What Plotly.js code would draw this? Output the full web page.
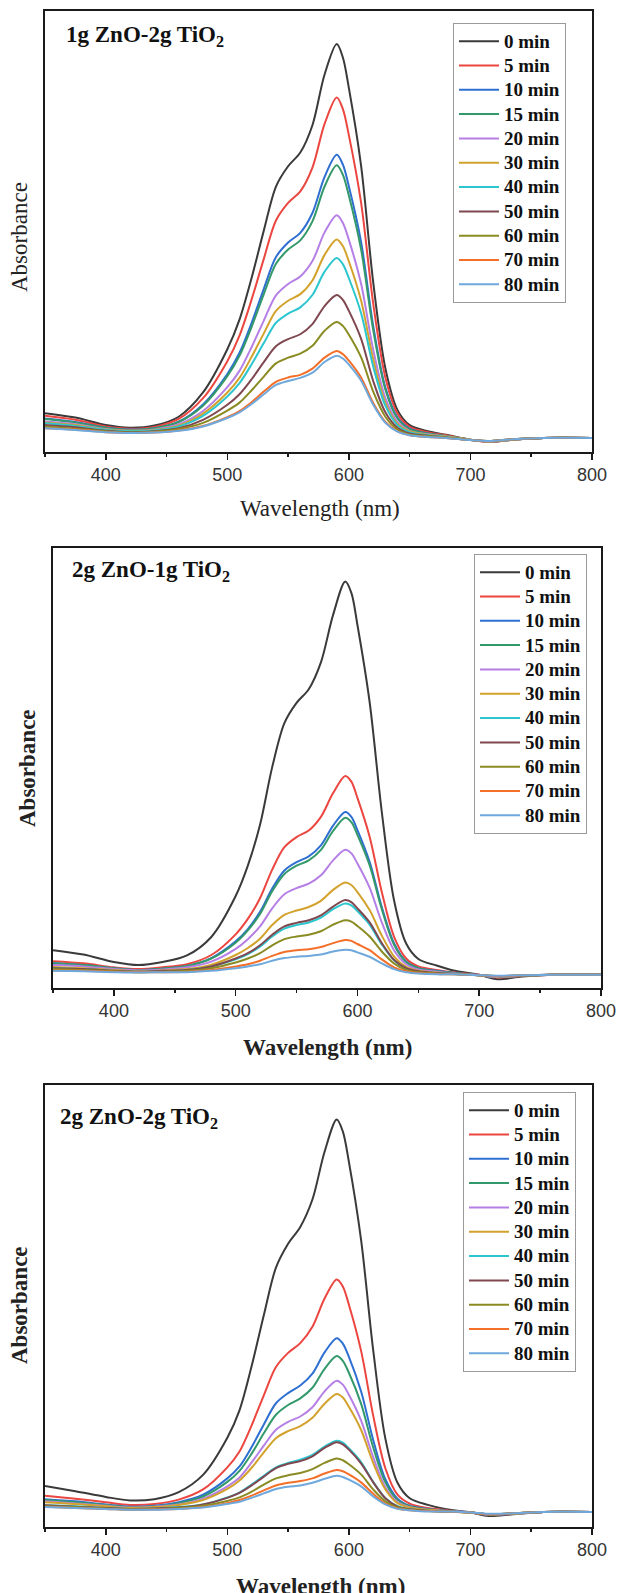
<!DOCTYPE html>
<html><head><meta charset="utf-8">
<script src="https://cdn.plot.ly/plotly-3.0.1.min.js"></script>
<style>html,body{margin:0;padding:0;background:#fff}#chart{width:617px;height:1593px}</style>
</head><body><div id="chart"></div>
<script>
const wavelength = [350,375,400,420,440,460,480,500,510,520,530,540,550,560,570,580,590,595,600,610,620,630,640,650,665,680,700,715,735,760,800];
const times = ["0 min","5 min","10 min","15 min","20 min","30 min","40 min","50 min","60 min","70 min","80 min"];
const colors = ["#3a3a3a","#ec4640","#2f6fd2","#33996a","#b57fe6","#d3a22c","#2cc6cf","#7f4850","#8a8b22","#f36f2a","#6ea8dc"];
const panelTitles = ["1g ZnO-2g TiO<sub>2</sub>","2g ZnO-1g TiO<sub>2</sub>","2g ZnO-2g TiO<sub>2</sub>"];

// Panel 1: 1g ZnO-2g TiO2
const p1_0  = [.088,.078,.061,.055,.060,.080,.135,.233,.300,.395,.502,.602,.648,.679,.741,.856,.925,.895,.825,.650,.385,.190,.095,.061,.047,.039,.028,.023,.028,.032,.032];
const p1_5  = [.082,.073,.058,.053,.057,.075,.122,.206,.264,.346,.438,.525,.565,.591,.645,.744,.804,.778,.718,.566,.337,.169,.087,.057,.045,.038,.028,.023,.028,.032,.032];
const p1_10 = [.076,.068,.055,.051,.054,.069,.108,.177,.225,.293,.370,.442,.475,.497,.542,.624,.674,.652,.602,.477,.286,.146,.078,.053,.042,.036,.028,.024,.028,.032,.032];
const p1_15 = [.075,.067,.055,.050,.054,.068,.105,.172,.218,.284,.358,.427,.459,.480,.523,.602,.650,.629,.581,.460,.277,.142,.076,.052,.042,.036,.028,.024,.028,.032,.032];
const p1_20 = [.069,.063,.052,.048,.051,.063,.093,.147,.184,.238,.298,.355,.381,.398,.433,.498,.537,.520,.481,.382,.232,.122,.068,.048,.040,.035,.028,.024,.028,.032,.032];
const p1_30 = [.067,.061,.051,.048,.050,.060,.087,.135,.168,.216,.269,.320,.343,.358,.389,.447,.482,.467,.432,.344,.211,.112,.064,.047,.039,.035,.028,.024,.028,.032,.032];
const p1_40 = [.065,.059,.050,.047,.049,.058,.082,.126,.156,.199,.247,.293,.314,.328,.356,.409,.440,.426,.394,.315,.194,.105,.061,.045,.038,.034,.027,.025,.029,.032,.032];
const p1_50 = [.061,.056,.048,.045,.047,.054,.073,.107,.131,.165,.204,.240,.256,.267,.290,.331,.356,.345,.320,.257,.161,.090,.055,.042,.037,.033,.027,.025,.029,.032,.032];
const p1_60 = [.058,.053,.047,.044,.046,.052,.066,.094,.112,.140,.171,.201,.214,.223,.241,.275,.295,.286,.266,.215,.137,.080,.051,.040,.036,.033,.027,.025,.029,.032,.032];
const p1_70 = [.054,.051,.045,.043,.044,.049,.059,.079,.093,.113,.137,.159,.169,.175,.189,.214,.229,.222,.207,.169,.111,.068,.047,.038,.034,.032,.027,.025,.029,.032,.032];
const p1_80 = [.054,.050,.045,.043,.044,.048,.058,.077,.090,.109,.131,.152,.161,.168,.180,.204,.218,.212,.198,.162,.107,.066,.046,.038,.034,.032,.027,.025,.029,.032,.032];

// Panel 2: 2g ZnO-1g TiO2
const p2_0  = [.086,.076,.059,.052,.059,.074,.116,.209,.278,.371,.502,.602,.648,.679,.740,.848,.924,.898,.825,.650,.400,.200,.101,.066,.051,.039,.030,.020,.026,.030,.030];
const p2_5  = [.061,.056,.047,.043,.047,.054,.075,.122,.157,.204,.269,.320,.343,.358,.389,.443,.482,.469,.432,.344,.218,.117,.067,.049,.041,.035,.030,.024,.027,.030,.030];
const p2_10 = [.057,.052,.045,.041,.044,.050,.068,.106,.134,.173,.226,.267,.286,.299,.324,.369,.400,.389,.359,.287,.184,.102,.060,.045,.039,.034,.029,.025,.028,.030,.030];
const p2_15 = [.056,.052,.045,.041,.044,.050,.067,.103,.131,.168,.220,.259,.278,.290,.314,.357,.387,.377,.348,.279,.179,.099,.059,.045,.038,.034,.029,.025,.028,.030,.030];
const p2_20 = [.052,.049,.043,.040,.042,.047,.060,.089,.111,.140,.181,.213,.227,.237,.256,.290,.314,.306,.283,.228,.149,.086,.054,.042,.037,.033,.029,.025,.028,.030,.030];
const p2_30 = [.048,.045,.041,.038,.040,.043,.053,.075,.091,.112,.143,.166,.176,.184,.198,.223,.240,.234,.218,.177,.119,.072,.048,.039,.035,.032,.029,.026,.028,.030,.030];
const p2_40 = [.045,.043,.039,.037,.038,.041,.049,.065,.077,.094,.117,.135,.143,.149,.160,.179,.192,.188,.175,.144,.099,.063,.044,.037,.034,.032,.029,.027,.028,.030,.030];
const p2_50 = [.045,.043,.039,.037,.039,.041,.049,.067,.079,.097,.121,.140,.148,.154,.165,.185,.200,.195,.181,.149,.102,.064,.045,.038,.034,.032,.029,.027,.028,.030,.030];
const p2_60 = [.043,.041,.038,.036,.037,.039,.045,.058,.067,.079,.097,.111,.117,.121,.129,.144,.154,.151,.141,.117,.083,.056,.041,.036,.033,.031,.029,.027,.029,.030,.030];
const p2_70 = [.040,.039,.037,.036,.036,.037,.041,.049,.054,.062,.073,.082,.086,.088,.093,.102,.109,.107,.100,.086,.065,.047,.038,.034,.032,.031,.029,.027,.029,.030,.030];
const p2_80 = [.039,.038,.036,.035,.036,.036,.039,.045,.049,.054,.062,.068,.071,.073,.076,.083,.087,.086,.081,.071,.056,.043,.036,.033,.031,.031,.029,.028,.029,.030,.030];

// Panel 3: 2g ZnO-2g TiO2
const p3_0  = [.093,.081,.068,.060,.063,.079,.118,.202,.264,.364,.479,.587,.641,.679,.741,.849,.922,.895,.826,.650,.400,.200,.100,.065,.050,.040,.033,.025,.029,.034,.034];
const p3_5  = [.071,.064,.056,.050,.052,.062,.085,.135,.171,.230,.298,.362,.394,.416,.453,.517,.560,.544,.503,.399,.252,.133,.073,.053,.043,.038,.033,.027,.030,.034,.034];
const p3_10 = [.063,.058,.051,.046,.048,.056,.073,.110,.137,.181,.232,.280,.303,.320,.347,.395,.427,.415,.385,.307,.197,.108,.064,.048,.041,.037,.033,.028,.030,.034,.034];
const p3_15 = [.061,.056,.050,.045,.047,.054,.069,.102,.127,.166,.212,.254,.276,.291,.315,.358,.387,.376,.349,.279,.180,.101,.061,.047,.040,.036,.033,.028,.030,.034,.034];
const p3_20 = [.058,.053,.048,.044,.046,.051,.064,.092,.112,.146,.184,.220,.238,.250,.271,.307,.331,.322,.299,.241,.158,.090,.057,.045,.039,.036,.033,.028,.030,.034,.034];
const p3_30 = [.056,.052,.047,.043,.045,.050,.061,.086,.105,.134,.169,.201,.217,.228,.247,.279,.301,.293,.272,.220,.145,.085,.054,.044,.039,.036,.033,.029,.030,.034,.034];
const p3_40 = [.049,.047,.043,.041,.042,.045,.051,.067,.078,.096,.116,.135,.145,.152,.163,.182,.195,.191,.178,.147,.102,.065,.047,.040,.037,.035,.033,.029,.031,.034,.034];
const p3_50 = [.049,.046,.043,.041,.042,.044,.051,.066,.077,.094,.114,.133,.143,.149,.160,.179,.192,.187,.175,.144,.101,.065,.046,.040,.037,.035,.033,.029,.031,.034,.034];
const p3_60 = [.047,.045,.042,.040,.040,.043,.048,.059,.067,.080,.096,.110,.117,.122,.131,.145,.155,.151,.142,.119,.085,.058,.044,.039,.036,.035,.033,.029,.031,.034,.034];
const p3_70 = [.046,.043,.041,.039,.040,.041,.045,.054,.061,.071,.083,.094,.100,.104,.110,.121,.129,.126,.119,.101,.075,.053,.042,.038,.036,.035,.033,.029,.031,.034,.034];
const p3_80 = [.045,.043,.041,.039,.039,.041,.044,.052,.057,.066,.076,.086,.091,.094,.100,.109,.116,.113,.107,.092,.069,.051,.041,.038,.035,.035,.033,.030,.031,.034,.034];

const panels = [
  [p1_0,p1_5,p1_10,p1_15,p1_20,p1_30,p1_40,p1_50,p1_60,p1_70,p1_80],
  [p2_0,p2_5,p2_10,p2_15,p2_20,p2_30,p2_40,p2_50,p2_60,p2_70,p2_80],
  [p3_0,p3_5,p3_10,p3_15,p3_20,p3_30,p3_40,p3_50,p3_60,p3_70,p3_80]
];

const W = 617, H = 1593;
// plot boxes in page pixels: [left, right, top, bottom]
const boxes = [[45,592,11,452],[53,601,548,988],[45,592,1085,1527]];
const legendPos = [[453,23],[474,554],[463,1092]];
const xTitlePos = [[320,508],[327,1047],[320,1586]];
const yTitlePos = [[19,237],[28,768],[19,1305]];
const labelPos = [[64,36],[70,571],[58,1118]];
const boldTitles = [false,true,true];

const serif = "Liberation Serif, Times New Roman, serif";
const sans = "Liberation Sans, Arial, sans-serif";

const traces = [];
const layout = {
  width: W, height: H,
  margin: {l:0,r:0,t:0,b:0},
  paper_bgcolor: "#fff", plot_bgcolor: "#fff",
  showlegend: true,
  annotations: []
};

panels.forEach((series, p) => {
  const sfx = p === 0 ? "" : String(p+1);
  const lg = "legend" + sfx;
  series.forEach((ys, i) => {
    traces.push({
      x: wavelength, y: ys, type: "scatter", mode: "lines",
      name: '<span style="font-size:19px">' + times[i] + '</span>',
      xaxis: "x" + sfx, yaxis: "y" + sfx,
      legend: lg,
      line: {color: colors[i], width: 2, shape: "spline", smoothing: 0.9}
    });
  });
  const [l, r, t, b] = boxes[p];
  layout["xaxis" + sfx] = {
    domain: [l/W, r/W], anchor: "y" + sfx,
    range: [350, 800], tick0: 0, dtick: 100, tickmode: "linear",
    showline: true, mirror: true, linecolor: "#1a1a1a", linewidth: 1.6,
    ticks: "outside", ticklen: 6, tickwidth: 1.5, tickcolor: "#1a1a1a",
    minor: {dtick: 50, tick0: 0, ticks: "outside", ticklen: 3, tickwidth: 1.5, tickcolor: "#1a1a1a", showgrid: false},
    showgrid: false, zeroline: false,
    tickfont: {family: sans, size: 18, color: "#333"}
  };
  layout["yaxis" + sfx] = {
    domain: [1 - b/H, 1 - t/H], anchor: "x" + sfx,
    range: [0, 1],
    showline: true, mirror: true, linecolor: "#1a1a1a", linewidth: 1.6,
    ticks: "", showticklabels: false, showgrid: false, zeroline: false
  };
  layout[lg] = {
    x: legendPos[p][0]/W, y: 1 - legendPos[p][1]/H, xanchor: "left", yanchor: "top",
    xref: "paper", yref: "paper",
    bgcolor: "#fff", bordercolor: "#9a9a9a", borderwidth: 1,
    font: {family: serif, size: 16.4, color: "#111", weight: "bold"},
    itemwidth: 40, tracegroupgap: 0
  };
  const bw = boldTitles[p];
  layout.annotations.push({
    xref: "paper", yref: "paper", x: xTitlePos[p][0]/W, y: 1 - xTitlePos[p][1]/H,
    xanchor: "center", yanchor: "middle", showarrow: false,
    text: bw ? "<b>Wavelength (nm)</b>" : "Wavelength (nm)",
    font: {family: serif, size: 23, color: "#222"}
  });
  layout.annotations.push({
    xref: "paper", yref: "paper", x: yTitlePos[p][0]/W, y: 1 - yTitlePos[p][1]/H,
    xanchor: "center", yanchor: "middle", showarrow: false, textangle: -90,
    text: bw ? "<b>Absorbance</b>" : "Absorbance",
    font: {family: serif, size: 23, color: "#222"}
  });
  layout.annotations.push({
    xref: "paper", yref: "paper", x: labelPos[p][0]/W, y: 1 - labelPos[p][1]/H,
    xanchor: "left", yanchor: "middle", align: "left", showarrow: false,
    text: "<b>" + panelTitles[p] + "</b>",
    font: {family: serif, size: 23, color: "#111"}
  });
});

Plotly.newPlot("chart", traces, layout, {staticPlot: true, displayModeBar: false});
</script>
</body></html>
